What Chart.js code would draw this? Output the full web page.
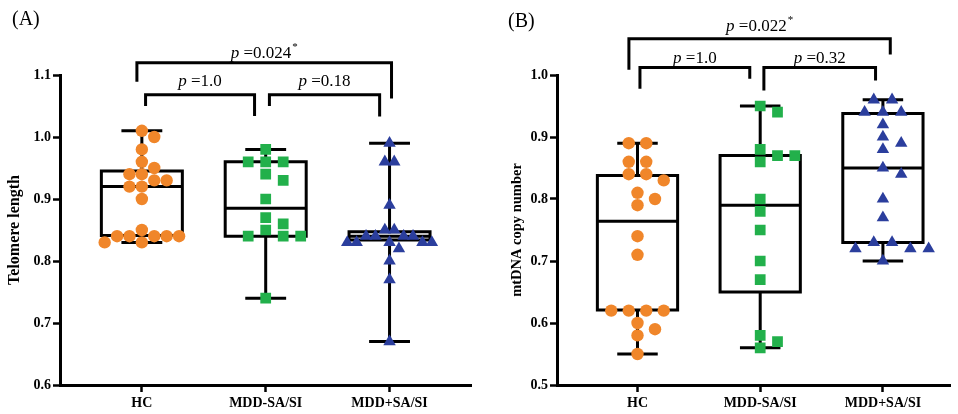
<!DOCTYPE html>
<html><head><meta charset="utf-8">
<script src="https://cdn.jsdelivr.net/npm/chart.js@4.4.1/dist/chart.umd.min.js"></script>
<style>
html,body{margin:0;padding:0;background:#fff;width:958px;height:414px;overflow:hidden}
.panel{position:absolute;top:0;width:479px;height:414px}
#pa{left:0}
#pb{left:479px}
.plab{position:absolute;font-family:'Liberation Serif','Times New Roman',serif;font-size:20px;color:#000;line-height:20px}
</style></head><body>
<div class="panel" id="pa"><canvas id="ca" width="479" height="414"></canvas></div>
<div class="panel" id="pb"><canvas id="cb" width="479" height="414"></canvas></div>
<div class="plab" style="left:12px;top:8px">(A)</div>
<div class="plab" style="left:508px;top:10px">(B)</div>
<script>
const categories = ['HC', 'MDD-SA/SI', 'MDD+SA/SI'];

// Panel A – telomere length
const telomereHC = [1.01,1.00,0.98,0.96,0.95,0.94,0.94,0.93,0.93,0.92,0.92,0.90,0.85,0.84,0.84,0.84,0.84,0.84,0.83,0.83];
const telomereMDDneg = [0.98,0.96,0.96,0.96,0.94,0.93,0.90,0.87,0.86,0.85,0.84,0.84,0.84,0.74];
const telomereMDDpos = [0.99,0.96,0.96,0.89,0.85,0.85,0.84,0.84,0.84,0.84,0.83,0.83,0.83,0.83,0.83,0.82,0.80,0.77,0.67];
// box stats: [min, q1, median, q3, max]
const telomereBoxHC = [0.83,0.841,0.92,0.945,1.01];
const telomereBoxMDDneg = [0.74,0.84,0.885,0.96,0.98];
const telomereBoxMDDpos = [0.67,0.834,0.84,0.847,0.99];
const telomereTicks = [0.6,0.7,0.8,0.9,1.0,1.1];
const telomereP = ['1.0','0.18','0.024'];

// Panel B – mtDNA copy number
const mtdnaHC = [0.89,0.89,0.86,0.86,0.84,0.84,0.83,0.81,0.80,0.79,0.74,0.71,0.62,0.62,0.62,0.62,0.60,0.59,0.58,0.55];
const mtdnaMDDneg = [0.95,0.94,0.88,0.87,0.87,0.86,0.80,0.78,0.75,0.70,0.67,0.58,0.57,0.56];
const mtdnaMDDpos = [0.96,0.96,0.94,0.94,0.94,0.92,0.90,0.89,0.88,0.85,0.84,0.80,0.77,0.73,0.73,0.72,0.72,0.72,0.70];
const mtdnaBoxHC = [0.55,0.621,0.764,0.838,0.89];
const mtdnaBoxMDDneg = [0.56,0.65,0.79,0.87,0.95];
const mtdnaBoxMDDpos = [0.70,0.73,0.85,0.938,0.96];
const mtdnaTicks = [0.5,0.6,0.7,0.8,0.9,1.0];
const mtdnaP = ['1.0','0.32','0.022'];

const SERIF = "'Liberation Serif','Times New Roman',serif";
Chart.defaults.font.family = SERIF;
Chart.defaults.color = '#000';

const boxPlugin = {
  id: 'boxes',
  beforeDatasetsDraw(chart, args, opts) {
    const {ctx, scales: {x, y}} = chart;
    const unit = x.getPixelForValue(2) - x.getPixelForValue(1);
    ctx.save();
    ctx.strokeStyle = '#000'; ctx.lineWidth = 3; ctx.lineCap = 'butt'; ctx.lineJoin = 'miter';
    opts.boxes.forEach((b, i) => {
      const cx = x.getPixelForValue(i + 1);
      const hw = unit * 0.327, cw = unit * 0.165;
      const [mn, q1, md, q3, mx] = b.map(v => y.getPixelForValue(v));
      ctx.beginPath();
      ctx.rect(cx - hw, q3, 2 * hw, q1 - q3);
      ctx.moveTo(cx - hw, md); ctx.lineTo(cx + hw, md);
      ctx.moveTo(cx, q3); ctx.lineTo(cx, mx);
      ctx.moveTo(cx, q1); ctx.lineTo(cx, mn);
      ctx.moveTo(cx - cw, mx); ctx.lineTo(cx + cw, mx);
      ctx.moveTo(cx - cw, mn); ctx.lineTo(cx + cw, mn);
      ctx.stroke();
    });
    ctx.restore();
  }
};

const bracketPlugin = {
  id: 'brackets',
  afterDraw(chart, args, opts) {
    const {ctx, scales: {x, y}} = chart;
    ctx.save();
    ctx.strokeStyle = '#000'; ctx.lineWidth = 3; ctx.lineCap = 'butt'; ctx.lineJoin = 'miter';
    opts.items.forEach(b => {
      const x1 = x.getPixelForValue(b.x1), x2 = x.getPixelForValue(b.x2);
      const yt = y.getPixelForValue(b.top), yl = y.getPixelForValue(b.left), yr = y.getPixelForValue(b.right);
      ctx.beginPath();
      ctx.moveTo(x1, yl); ctx.lineTo(x1, yt); ctx.lineTo(x2, yt); ctx.lineTo(x2, yr);
      ctx.stroke();
      const ty = y.getPixelForValue(b.ty);
      const fItal = 'italic 17px ' + SERIF, fReg = '17px ' + SERIF, fSup = '11px ' + SERIF;
      ctx.font = fItal; const w1 = ctx.measureText('p').width;
      ctx.font = fReg; const t2 = ' =' + b.text; const w2 = ctx.measureText(t2).width;
      ctx.font = fSup; const w3 = b.star ? ctx.measureText('*').width + 1 : 0;
      let sx = (x1 + x2) / 2 - (w1 + w2 + w3) / 2;
      ctx.fillStyle = '#000'; ctx.textBaseline = 'alphabetic'; ctx.textAlign = 'left';
      const base = ty + 6;
      ctx.font = fItal; ctx.fillText('p', sx, base); sx += w1;
      ctx.font = fReg; ctx.fillText(t2, sx, base); sx += w2;
      if (b.star) { ctx.font = fSup; ctx.fillText('*', sx + 1, base - 8); }
    });
    ctx.restore();
  }
};

const markerStyles = [
  {color: '#F0862A', style: 'circle', radius: 6.2},
  {color: '#22B04B', style: 'rect', radius: 7.6},
  {color: '#2B3E9D', style: 'triangle', radius: 7.2}
];

function swarmOffsets(vals, pix, sx, sy) {
  const placed = [], offs = new Array(vals.length).fill(0);
  const ok = (o, py) => placed.every(p => ((p.x - o) / sx) ** 2 + ((p.y - py) / sy) ** 2 >= 0.98);
  const rows = new Map();
  vals.forEach((v, i) => { const k = v.toFixed(3); if (!rows.has(k)) rows.set(k, []); rows.get(k).push(i); });
  const keys = [...rows.keys()].sort((a, b) => b - a);
  keys.forEach(k => {
    const idx = rows.get(k), n = idx.length, py = pix(vals[idx[0]]);
    let done = false;
    for (let s = 0; s < 7 && !done; s++) {
      const c = (s % 2 === 1 ? 1 : -1) * Math.ceil(s / 2) * 0.5 * sx;
      const pos = idx.map((_, j) => c + (j - (n - 1) / 2) * sx);
      if (pos.every(o => ok(o, py))) {
        pos.forEach((o, j) => { offs[idx[j]] = o; placed.push({x: o, y: py}); });
        done = true;
      }
    }
    if (!done) {
      idx.forEach(i => {
        for (let s = 0; s < 60; s++) {
          const o = (s % 2 === 1 ? 1 : -1) * Math.ceil(s / 2) * 0.5 * sx;
          if (ok(o, py)) { offs[i] = o; placed.push({x: o, y: py}); break; }
        }
      });
    }
  });
  return offs;
}

function makeChart(canvasId, cfg) {
  const datasets = cfg.groups.map((vals, i) => ({
    label: categories[i],
    raw: vals,
    data: vals.map(v => ({x: i + 1, y: v})),
    pointStyle: markerStyles[i].style,
    pointRadius: markerStyles[i].radius,
    pointHoverRadius: markerStyles[i].radius,
    backgroundColor: markerStyles[i].color,
    borderColor: markerStyles[i].color,
    pointBorderWidth: 0,
    showLine: false
  }));
  const chart = new Chart(document.getElementById(canvasId), {
    type: 'scatter',
    data: {datasets},
    plugins: [boxPlugin, bracketPlugin],
    options: {
      responsive: false,
      animation: false,
      events: [],
      layout: {padding: {top: 75, right: cfg.padRight, left: 0, bottom: 0}},
      plugins: {
        legend: {display: false},
        tooltip: {enabled: false},
        boxes: {boxes: cfg.boxes},
        brackets: {items: cfg.brackets}
      },
      scales: {
        x: {
          type: 'linear', min: cfg.xMin, max: cfg.xMax,
          afterBuildTicks: s => { s.ticks = categories.map((c, i) => ({value: i + 1})); },
          afterFit: s => { s.height = 29; },
          ticks: {autoSkip: false, maxRotation: 0, padding: 3, color: '#000',
                  font: {size: 14, weight: 'bold'},
                  callback: v => categories[v - 1]},
          grid: {display: true, drawOnChartArea: false, drawTicks: true, tickLength: 7,
                 tickWidth: 2.5, tickColor: '#000', color: '#000'},
          border: {display: true, color: '#000', width: 3}
        },
        y: {
          min: cfg.ticks[0], max: cfg.ticks[cfg.ticks.length - 1],
          afterBuildTicks: s => { s.ticks = cfg.ticks.map(v => ({value: v})); },
          afterFit: s => { s.width = cfg.yWidth; },
          ticks: {padding: 2, color: '#000', font: {size: 14, weight: 'bold'},
                  callback: v => Number(v).toFixed(1)},
          grid: {display: true, drawOnChartArea: false, drawTicks: true, tickLength: 7,
                 tickWidth: 2.5, tickColor: '#000', color: '#000'},
          border: {display: true, color: '#000', width: 3},
          title: {display: true, text: cfg.yTitle, color: '#000',
                  font: {size: cfg.titleSize, weight: 'bold'}, padding: {top: cfg.titlePad, bottom: 0}}
        }
      }
    }
  });
  // beeswarm layout computed from the chart's own scales
  const xs = chart.scales.x, ys = chart.scales.y;
  const unit = xs.getPixelForValue(2) - xs.getPixelForValue(1);
  chart.data.datasets.forEach((ds, gi) => {
    const offs = swarmOffsets(ds.raw, v => ys.getPixelForValue(v), cfg.spacing[gi], cfg.vspace[gi]);
    ds.data = ds.raw.map((v, i) => ({x: gi + 1 + offs[i] / unit, y: v}));
  });
  chart.update('none');
  return chart;
}

makeChart('ca', {
  groups: [telomereHC, telomereMDDneg, telomereMDDpos],
  boxes: [telomereBoxHC, telomereBoxMDDneg, telomereBoxMDDpos],
  ticks: telomereTicks,
  yTitle: 'Telomere length', titleSize: 16, titlePad: 5,
  yWidth: 60, padRight: 7, xMin: 0.339, xMax: 3.661,
  spacing: [12.4, 17.5, 9.4], vspace: [11, 11, 10],
  brackets: [
    {x1: 0.96, x2: 3.016, top: 1.1198, left: 1.089, right: 1.062, ty: 1.1376, text: telomereP[2], star: true},
    {x1: 1.03, x2: 1.91, top: 1.068, left: 1.050, right: 1.034, ty: 1.0924, text: telomereP[0]},
    {x1: 2.03, x2: 2.92, top: 1.068, left: 1.050, right: 1.033, ty: 1.0924, text: telomereP[1]}
  ]
});

makeChart('cb', {
  groups: [mtdnaHC, mtdnaMDDneg, mtdnaMDDpos],
  boxes: [mtdnaBoxHC, mtdnaBoxMDDneg, mtdnaBoxMDDpos],
  ticks: mtdnaTicks,
  yTitle: 'mtDNA copy number', titleSize: 14.5, titlePad: 30,
  yWidth: 78, padRight: 5, xMin: 0.344, xMax: 3.55,
  spacing: [17.5, 17.3, 18.3], vspace: [11, 11, 10],
  brackets: [
    {x1: 0.93, x2: 3.06, top: 1.0585, left: 1.0085, right: 1.033, ty: 1.081, text: mtdnaP[2], star: true},
    {x1: 1.02, x2: 1.915, top: 1.012, left: 0.978, right: 0.994, ty: 1.0295, text: mtdnaP[0]},
    {x1: 2.03, x2: 2.94, top: 1.012, left: 0.975, right: 0.991, ty: 1.0295, text: mtdnaP[1]}
  ]
});
</script>
</body></html>
